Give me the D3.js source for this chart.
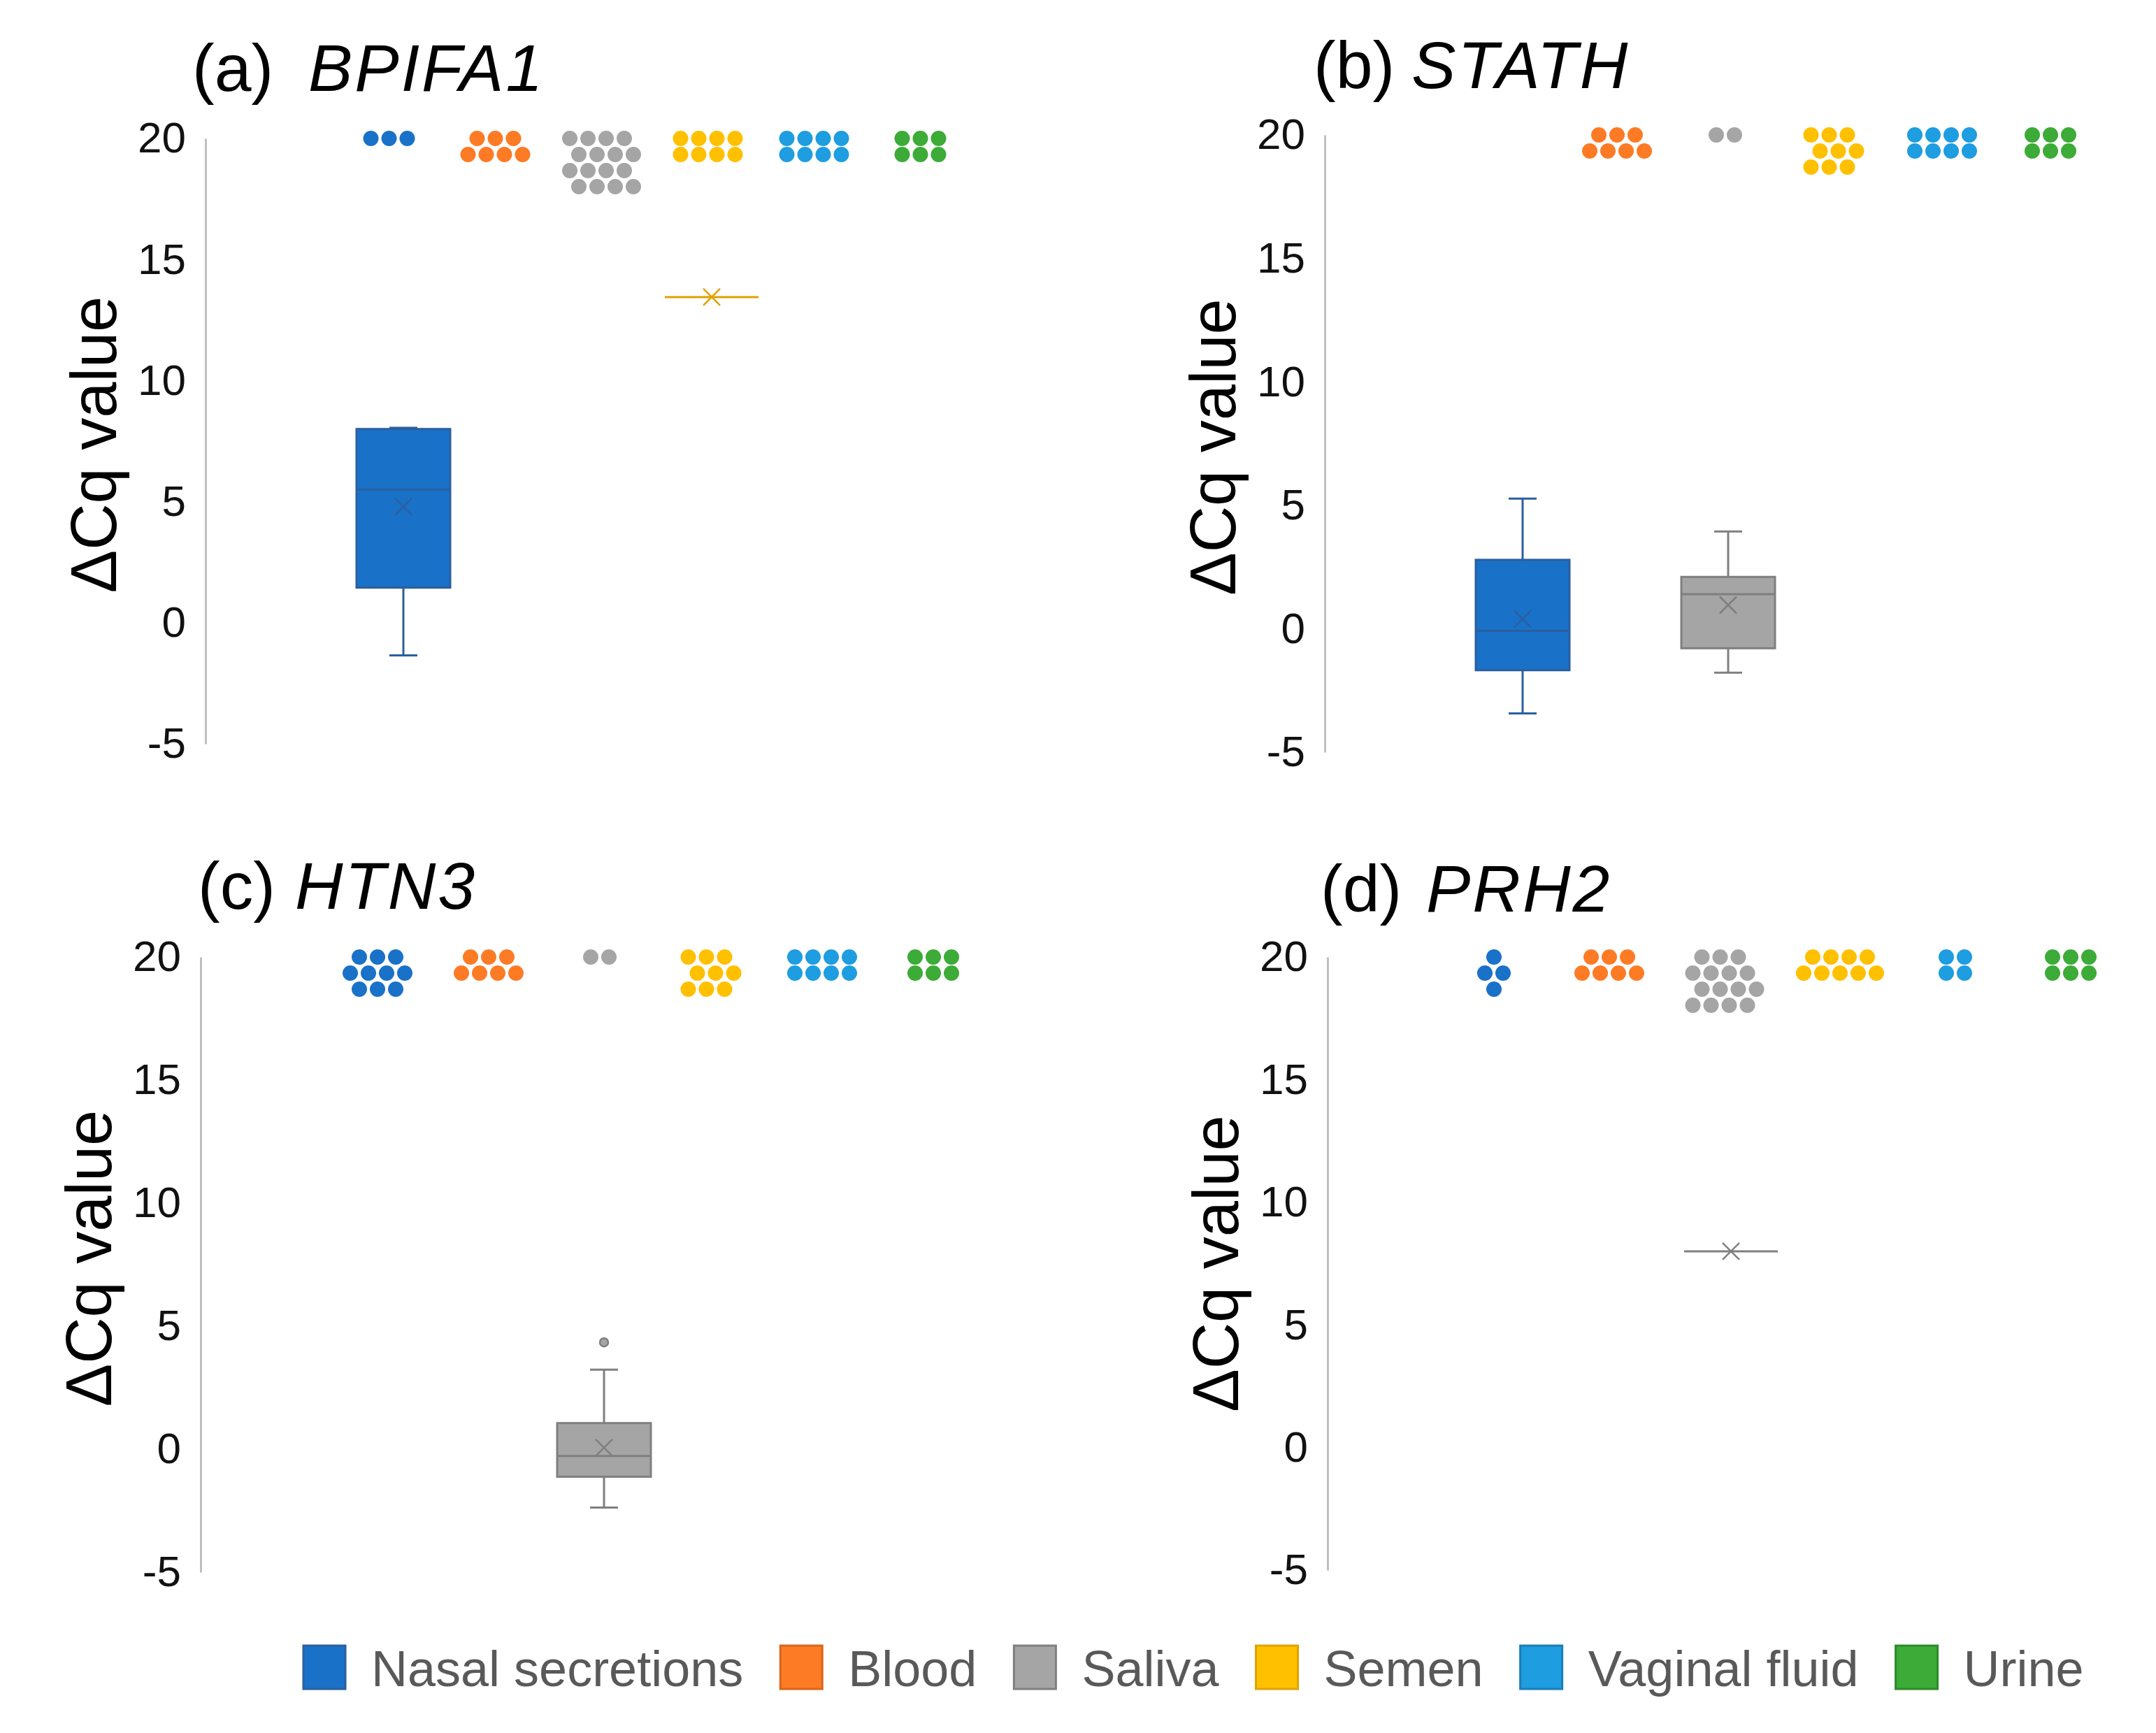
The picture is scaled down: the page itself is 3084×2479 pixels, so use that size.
<!DOCTYPE html>
<html>
<head>
<meta charset="utf-8">
<script src="https://cdn.jsdelivr.net/npm/d3@7"></script>
<style>
  body { margin: 0; background: #fff; }
  text { font-family: "Liberation Sans", Arial, sans-serif; }
</style>
</head>
<body>
<svg id="chart" width="3084" height="2479"></svg>
<script>
// ---------------------------------------------------------------------------
// Data
const categories = ['Nasal secretions', 'Blood', 'Saliva', 'Semen', 'Vaginal fluid', 'Urine'];
const panelTags = ['(a)', '(b)', '(c)', '(d)'];
const genes = ['BPIFA1', 'STATH', 'HTN3', 'PRH2'];
const yTicks = [-5, 0, 5, 10, 15, 20];

// per category: [min, q1, median, q3, max, mean], null = no detected values
const boxStatsA = [[-1.35, 1.45, 5.5, 8.0, 8.05, 4.8], null, null, [13.45, 13.45, 13.45, 13.45, 13.45, 13.45], null, null];
const boxStatsB = [[-3.43, -1.68, -0.09, 2.79, 5.27, 0.4], null, [-1.78, -0.79, 1.4, 2.1, 3.94, 0.96], null, null, null];
const boxStatsC = [null, null, [-2.37, -1.12, -0.28, 1.06, 3.23, 0.06], null, null, null];
const boxStatsD = [null, null, [8.0, 8.0, 8.0, 8.0, 8.0, 8.0], null, null, null];

// outliers per category
const outliersA = [[], [], [], [], [], []];
const outliersB = [[], [], [], [], [], []];
const outliersC = [[], [], [4.34], [], [], []];
const outliersD = [[], [], [], [], [], []];

// undetected samples, drawn at ΔCq = 20 (dots per row)
const undetectedValue = 20;
const dotRowsA = [[3], [3, 4], [4, 4, 4, 4], [4, 4], [4, 4], [3, 3]];
const dotRowsB = [[], [3, 4], [2], [3, 3, 3], [4, 4], [3, 3]];
const dotRowsC = [[3, 4, 3], [3, 4], [2], [3, 3, 3], [4, 4], [3, 3]];
const dotRowsD = [[1, 2, 1], [3, 4], [3, 4, 4, 4], [4, 5], [2, 2], [3, 3]];

const panels = [
  { tag: panelTags[0], gene: genes[0], boxes: boxStatsA, outliers: outliersA, dots: dotRowsA },
  { tag: panelTags[1], gene: genes[1], boxes: boxStatsB, outliers: outliersB, dots: dotRowsB },
  { tag: panelTags[2], gene: genes[2], boxes: boxStatsC, outliers: outliersC, dots: dotRowsC },
  { tag: panelTags[3], gene: genes[3], boxes: boxStatsD, outliers: outliersD, dots: dotRowsD },
];

// ---------------------------------------------------------------------------
// Styles / layout
const fills = ['#1a71c8', '#fd7b25', '#a5a5a5', '#ffc000', '#1e9de0', '#3cab37'];
const lines = ['#2b5f9f', '#d8661a', '#7f7f7f', '#e0a200', '#1a7fb8', '#2e8a2a'];

// dotStep / dotShift: the undetected-dot series sits on its own, slightly wider category axis
const layout = [
  { axisX: 294, top: 198, bottom: 1064, tagX: 275, geneX: 441, titleY: 130, labelDy: 5, dotCatStep: 152, dotShift: -8 },
  { axisX: 1895, top: 193, bottom: 1076, tagX: 1879, geneX: 2019, titleY: 126, labelDy: 5, dotCatStep: 155, dotShift: 0 },
  { axisX: 287, top: 1369, bottom: 2249, tagX: 283, geneX: 422, titleY: 1300, labelDy: -9, dotCatStep: 159, dotShift: 0 },
  { axisX: 1899, top: 1369, bottom: 2246, tagX: 1889, geneX: 2040, titleY: 1304, labelDy: 0, dotCatStep: 165, dotShift: 0 },
];

const opts = {
  firstOffset: 283,   // axis -> first category centre
  catStep: 147,       // distance between box categories
  boxWidth: 134,
  capWidth: 40,
  meanSize: 12,
  dotRadius: 11,
  dotStep: 26,
  rowStep: 23,
};

const svg = d3.select('#chart');

panels.forEach((p, pi) => {
  const L = layout[pi];
  const g = svg.append('g').attr('class', 'panel');

  const y = d3.scaleLinear().domain([-5, 20]).range([L.bottom, L.top]);
  const x0 = L.axisX + opts.firstOffset;
  const x = d3.scalePoint()
    .domain(categories)
    .range([x0, x0 + opts.catStep * (categories.length - 1)]);
  const mid = x0 + opts.catStep * (categories.length - 1) / 2 + L.dotShift;
  const half = L.dotCatStep * (categories.length - 1) / 2;
  const xDots = d3.scalePoint().domain(categories).range([mid - half, mid + half]);

  // y axis
  const axis = g.append('g')
    .attr('transform', `translate(${L.axisX},0)`)
    .call(d3.axisLeft(y).tickValues(yTicks).tickSize(0).tickSizeOuter(0).tickPadding(28)
      .tickFormat((d) => String(d)));
  axis.select('.domain').attr('stroke', '#bfbfbf').attr('stroke-width', 3);
  axis.selectAll('text')
    .attr('font-size', 62)
    .attr('fill', '#111')
    .style('font-family', '"Liberation Sans", Arial, sans-serif');

  // y axis title
  g.append('text')
    .attr('transform', `translate(${L.axisX - 128},${(L.top + L.bottom) / 2 + L.labelDy}) rotate(-90)`)
    .attr('text-anchor', 'middle')
    .attr('font-size', 92)
    .attr('fill', '#000')
    .text('ΔCq value');

  // panel title
  g.append('text')
    .attr('x', L.tagX).attr('y', L.titleY)
    .attr('font-size', 95).attr('fill', '#000')
    .text(p.tag);
  g.append('text')
    .attr('x', L.geneX).attr('y', L.titleY)
    .attr('font-size', 95).attr('font-style', 'italic').attr('fill', '#000')
    .attr('letter-spacing', 3)
    .text(p.gene);

  // boxes
  categories.forEach((cat, ci) => {
    const s = p.boxes[ci];
    if (!s) return;
    const [mn, q1, med, q3, mx, mean] = s;
    const cx = x(cat);
    const bg = g.append('g').attr('class', 'box');

    // whiskers
    bg.append('line').attr('x1', cx).attr('x2', cx).attr('y1', y(q3)).attr('y2', y(mx))
      .attr('stroke', lines[ci]).attr('stroke-width', 3);
    bg.append('line').attr('x1', cx).attr('x2', cx).attr('y1', y(q1)).attr('y2', y(mn))
      .attr('stroke', lines[ci]).attr('stroke-width', 3);
    [mn, mx].forEach((v) => {
      if (v === q1 && v === q3) return;
      bg.append('line')
        .attr('x1', cx - opts.capWidth / 2).attr('x2', cx + opts.capWidth / 2)
        .attr('y1', y(v)).attr('y2', y(v))
        .attr('stroke', lines[ci]).attr('stroke-width', 3);
    });

    if (q3 > q1) {
      bg.append('rect')
        .attr('x', cx - opts.boxWidth / 2).attr('width', opts.boxWidth)
        .attr('y', y(q3)).attr('height', y(q1) - y(q3))
        .attr('fill', fills[ci]).attr('stroke', lines[ci]).attr('stroke-width', 3);
    }
    // median
    bg.append('line')
      .attr('x1', cx - opts.boxWidth / 2).attr('x2', cx + opts.boxWidth / 2)
      .attr('y1', y(med)).attr('y2', y(med))
      .attr('stroke', lines[ci]).attr('stroke-width', 3);
    // mean marker
    const m = opts.meanSize;
    bg.append('path')
      .attr('d', `M${cx - m},${y(mean) - m}L${cx + m},${y(mean) + m}M${cx - m},${y(mean) + m}L${cx + m},${y(mean) - m}`)
      .attr('stroke', lines[ci]).attr('stroke-width', 2.5).attr('fill', 'none');

    // outliers
    bg.selectAll('circle.outlier')
      .data(p.outliers[ci])
      .enter()
      .append('circle')
      .attr('class', 'outlier')
      .attr('cx', cx).attr('cy', (d) => y(d)).attr('r', 6)
      .attr('fill', fills[ci]).attr('stroke', lines[ci]).attr('stroke-width', 2.5);
  });

  // undetected dots at 20
  categories.forEach((cat, ci) => {
    const rows = p.dots[ci];
    if (!rows.length) return;
    const pts = [];
    let off = 0;
    rows.forEach((n, ri) => {
      if (ri > 0) off = (rows.length > 2 && n === rows[ri - 1]) ? (off === 0 ? 0.5 : 0) : 0;
      for (let j = 0; j < n; j += 1) {
        pts.push({ dx: (j - (n - 1) / 2 + off) * opts.dotStep, dy: ri * opts.rowStep });
      }
    });
    const ext = d3.extent(pts, (d) => d.dx);
    const shift = -(ext[0] + ext[1]) / 2;
    g.append('g').selectAll('circle')
      .data(pts)
      .enter()
      .append('circle')
      .attr('cx', (d) => xDots(cat) + d.dx + shift)
      .attr('cy', (d) => y(undetectedValue) + d.dy)
      .attr('r', opts.dotRadius)
      .attr('fill', fills[ci]);
  });
});

// ---------------------------------------------------------------------------
// Legend
const legend = svg.append('g').attr('class', 'legend');
let lx = 434;
categories.forEach((cat, ci) => {
  legend.append('rect')
    .attr('x', lx).attr('y', 2354).attr('width', 60).attr('height', 62)
    .attr('fill', fills[ci]).attr('stroke', lines[ci]).attr('stroke-width', 3);
  const t = legend.append('text')
    .attr('x', lx + 97).attr('y', 2412)
    .attr('font-size', 72).attr('fill', '#595959')
    .text(cat);
  lx += 97 + t.node().getComputedTextLength() + 53;
});
</script>
</body>
</html>
